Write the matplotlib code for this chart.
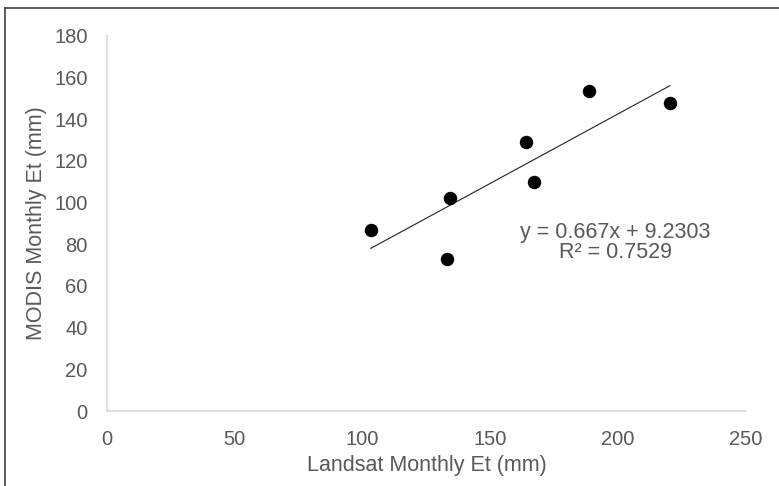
import matplotlib
matplotlib.use('Agg')
import matplotlib.pyplot as plt
from matplotlib.lines import Line2D

# Landsat vs MODIS monthly ET (mm)
landsat_et = [103.2, 132.9, 134.2, 163.9, 167.2, 188.7, 220.3]
modis_et = [86.9, 73.0, 102.1, 129.3, 109.8, 153.8, 147.7]
slope = 0.667
intercept = 9.2303
r_squared = 0.7529

grey = '#595959'
plt.rcParams['font.family'] = ['Liberation Sans', 'DejaVu Sans']

fig = plt.figure(figsize=(7.79, 4.86), dpi=100)
ax = fig.add_axes([0.1374, 0.1543, 0.8202, 0.7717])

ax.scatter(landsat_et, modis_et, s=75, color='black', zorder=3)

x0, x1 = min(landsat_et), max(landsat_et)
ax.plot([x0, x1], [slope * x0 + intercept, slope * x1 + intercept],
        color='#202020', lw=0.8)

ax.text(199, 81, 'y = %.3fx + %.4f\nR² = %.4f' % (slope, intercept, r_squared),
        ha='center', va='center', fontsize=15.5, color=grey, linespacing=0.95)

ax.set_xlim(0, 250)
ax.set_ylim(0, 180)
ax.set_xticks(range(0, 251, 50))
ax.set_yticks(range(0, 181, 20))
ax.tick_params(length=0, labelsize=14.5, labelcolor=grey)
ax.tick_params(axis='y', pad=14)
ax.tick_params(axis='x', pad=14)
for side in ['top', 'right']:
    ax.spines[side].set_visible(False)
for side in ['left', 'bottom']:
    ax.spines[side].set_color('#d9d9d9')
    ax.spines[side].set_linewidth(1.2)

ax.set_xlabel('Landsat Monthly Et (mm)', fontsize=15.5, color=grey, labelpad=4)
ax.set_ylabel('MODIS Monthly Et (mm)', fontsize=15.5, color=grey, labelpad=5)

# partial frame around the figure
fig.add_artist(Line2D([5 / 779, 5 / 779], [0, 1 - 8 / 486],
                      transform=fig.transFigure, color='#404040', lw=1.2))
fig.add_artist(Line2D([5 / 779, 1], [1 - 8 / 486, 1 - 8 / 486],
                      transform=fig.transFigure, color='#404040', lw=1.2))

fig.savefig('out.png', dpi=100)
